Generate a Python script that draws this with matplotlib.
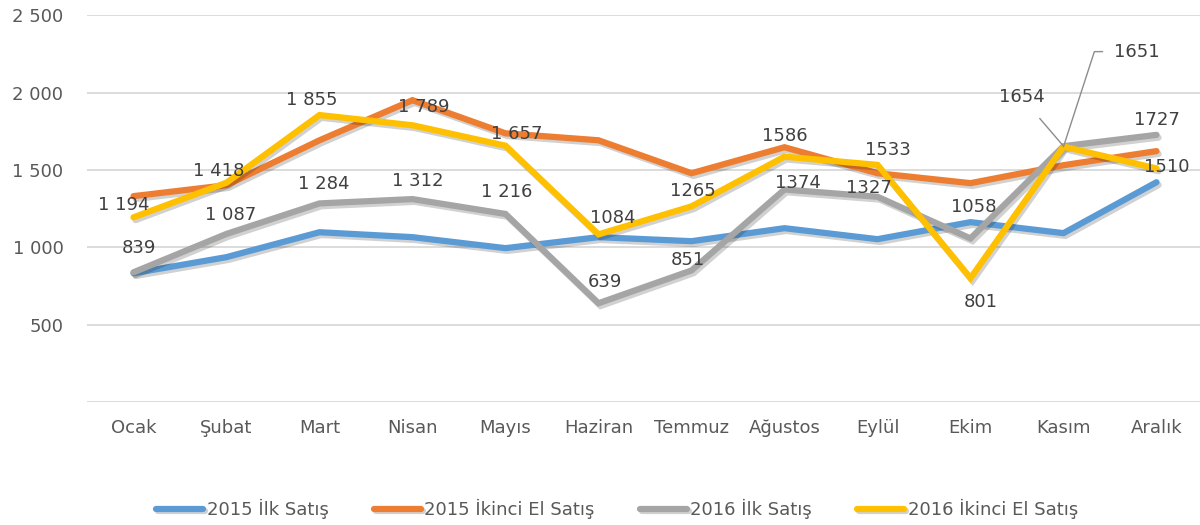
import numpy as np
import matplotlib
matplotlib.use('Agg')
from matplotlib import pyplot as plt
import matplotlib.patheffects as pe

months = ['Ocak', 'Şubat', 'Mart', 'Nisan', 'Mayıs', 'Haziran', 'Temmuz',
          'Ağustos', 'Eylül', 'Ekim', 'Kasım', 'Aralık']

ilk_2015 = [833, 937, 1098, 1066, 995, 1066, 1040, 1124, 1053, 1163, 1092, 1421]
ikinci_2015 = [1331, 1402, 1692, 1951, 1737, 1692, 1479, 1647, 1479, 1415, 1531, 1622]
ilk_2016 = [839, 1087, 1284, 1312, 1216, 639, 851, 1374, 1327, 1058, 1654, 1727]
ikinci_2016 = [1194, 1418, 1855, 1789, 1657, 1084, 1265, 1586, 1533, 801, 1651, 1510]

ilk_2016_lbl = ['839', '1 087', '1 284', '1 312', '1 216', '639', '851',
                '1374', '1327', '1058', '1654', '1727']
ikinci_2016_lbl = ['1 194', '1 418', '1 855', '1 789', '1 657', '1084', '1265',
                   '1586', '1533', '801', '1651', '1510']

series_names = ['2015 İlk Satış', '2015 İkinci El Satış', '2016 İlk Satış', '2016 İkinci El Satış']
colors = ['#5B9BD5', '#ED7D31', '#A5A5A5', '#FFC000']

# label offsets in pixels (dx, dy) relative to the point
off_ilk_2016 = [(5, 24), (4, 19), (4, 19), (5, 18), (1, 22), (6, 21), (-4, 10),
                (13, 6), (-9, 9), (3, 31), (-42, 49), (0, 15)]
off_ikinci_2016 = [(-10, 12), (-8, 12), (-8, 15), (11, 18), (11, 12), (14, 16), (1, 15),
                   (0, 21), (10, 15), (10, -24), (73, 95), (10, 1)]

plt.rcParams['font.family'] = ['DejaVu Sans']

fig = plt.figure(figsize=(12, 5.25), dpi=100)
ax = fig.add_axes([0.0725, 0.234, 0.93, 0.737])

x = np.arange(len(months))
shadow = [pe.SimpleLineShadow(offset=(1.5, -2), shadow_color='k', alpha=0.18), pe.Normal()]
for vals, name, c in zip([ilk_2015, ikinci_2015, ilk_2016, ikinci_2016], series_names, colors):
    ax.plot(x, vals, color=c, lw=4.5, label=name, solid_capstyle='round',
            solid_joinstyle='miter', path_effects=shadow)

txtc = '#404040'
fs = 13
for i in range(len(months)):
    dx, dy = off_ilk_2016[i]
    if i == 10:
        ax.annotate(ilk_2016_lbl[i], (x[i], ilk_2016[i]), xytext=(dx, dy),
                    textcoords='offset pixels', ha='center', va='center', fontsize=fs, color=txtc,
                    arrowprops=dict(arrowstyle='-', color='#8C8C8C', lw=1, shrinkA=9, shrinkB=0))
    else:
        ax.annotate(ilk_2016_lbl[i], (x[i], ilk_2016[i]), xytext=(dx, dy),
                    textcoords='offset pixels', ha='center', va='center', fontsize=fs, color=txtc)
    dx, dy = off_ikinci_2016[i]
    if i == 10:
        ax.annotate(ikinci_2016_lbl[i], (x[i], ikinci_2016[i]), xytext=(dx, dy),
                    textcoords='offset pixels', ha='center', va='center', fontsize=fs, color=txtc,
                    arrowprops=dict(arrowstyle='-', color='#8C8C8C', lw=1, shrinkA=6, shrinkB=0,
                                    relpos=(0, 0.5),
                                    connectionstyle='angle,angleA=0,angleB=72,rad=0'))
    else:
        ax.annotate(ikinci_2016_lbl[i], (x[i], ikinci_2016[i]), xytext=(dx, dy),
                    textcoords='offset pixels', ha='center', va='center', fontsize=fs, color=txtc)

ax.set_xlim(-0.5, 11.5)
ax.set_ylim(0, 2500)
ax.set_yticks([0, 500, 1000, 1500, 2000, 2500])
ax.set_yticklabels(['', '500', '1 000', '1 500', '2 000', '2 500'])
ax.set_xticks(x)
ax.set_xticklabels(months)
ax.tick_params(axis='both', length=0, labelsize=13, labelcolor='#595959')
ax.tick_params(axis='y', pad=17)
ax.tick_params(axis='x', pad=12)
ax.grid(axis='y', color='#D9D9D9', lw=1.3)
ax.set_axisbelow(True)
for s in ax.spines.values():
    s.set_visible(False)

ax.legend(loc='center', bbox_to_anchor=(0.475, -0.276), ncol=4, frameon=False,
          fontsize=13, handlelength=2.6, columnspacing=2.5, handletextpad=0.2,
          labelcolor='#595959')

fig.savefig('out.png', dpi=100)
